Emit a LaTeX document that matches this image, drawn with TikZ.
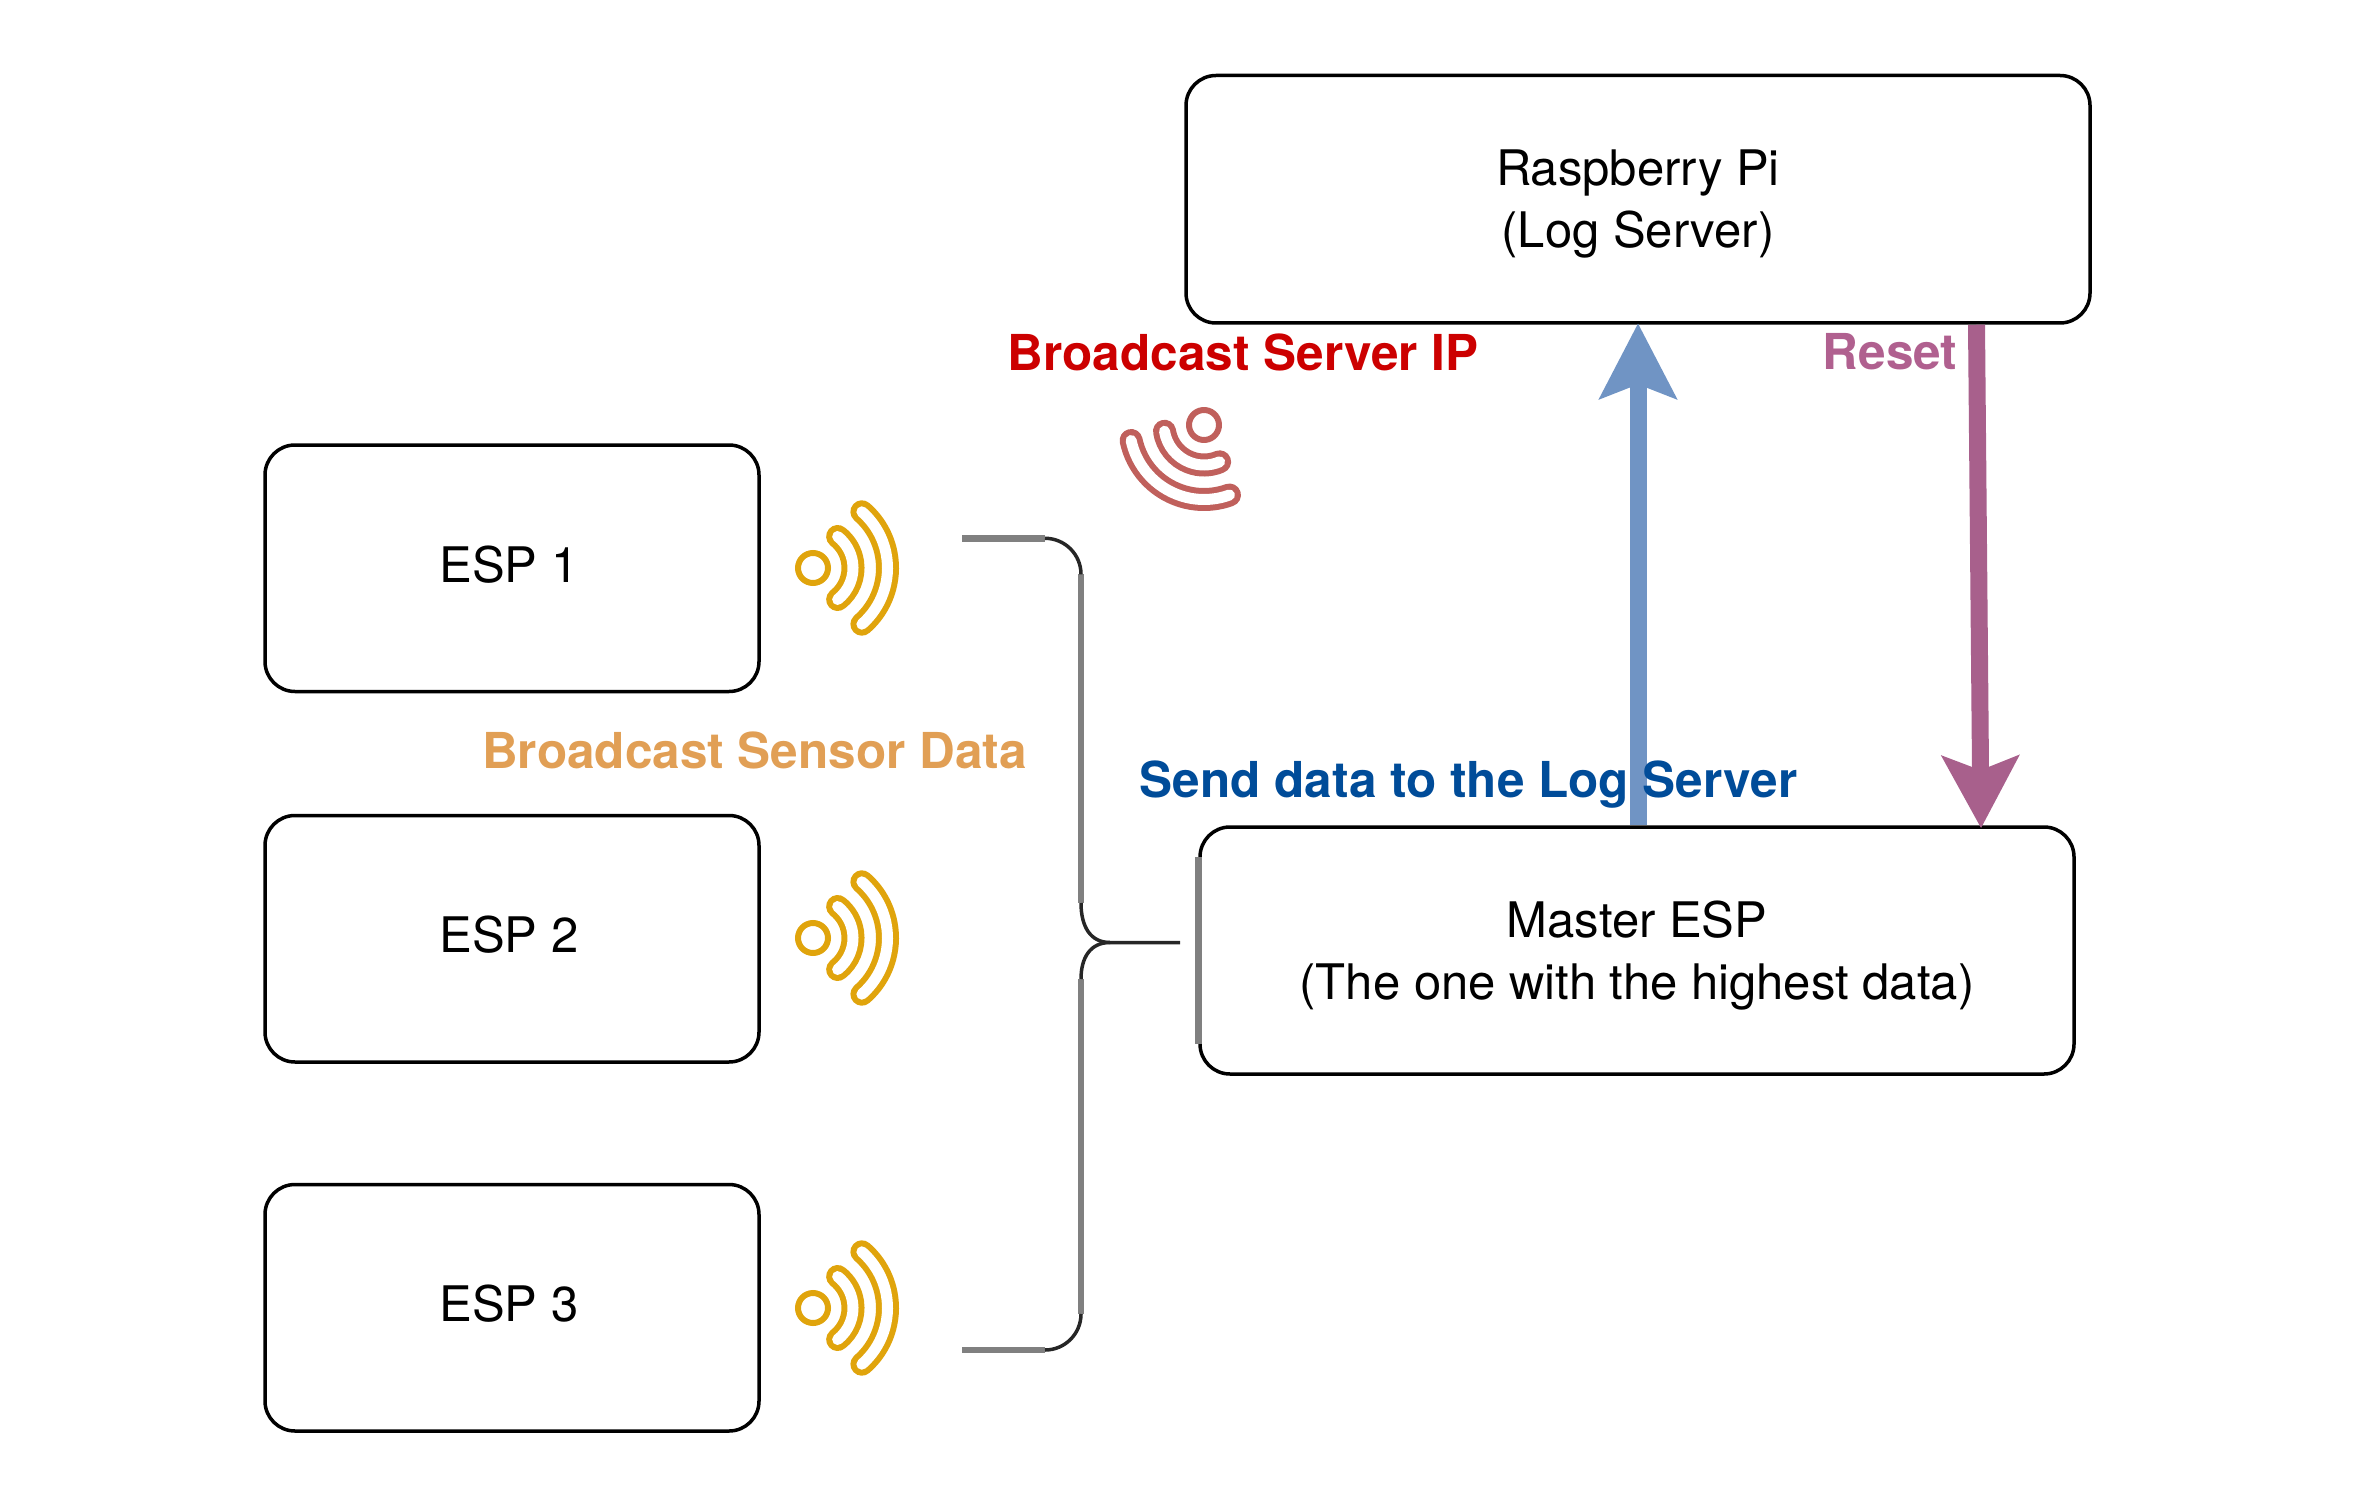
\documentclass[tikz,border=0pt]{standalone}
\usepackage{fontspec}
\setmainfont{TeX Gyre Heros}
\usetikzlibrary{arrows.meta,calc}
\definecolor{waveorange}{HTML}{E0A40C}
\definecolor{wavered}{HTML}{C0605C}
\definecolor{labelorange}{HTML}{E19F55}
\definecolor{labelred}{HTML}{CC0000}
\definecolor{labelblue}{HTML}{004C99}
\definecolor{labelpurple}{HTML}{B0608F}
\definecolor{linkblue}{HTML}{7094C4}
\definecolor{linkpurple}{HTML}{A8608C}
\newcommand{\wavesign}[4]{%
  \begin{scope}[shift={(#1,#2)},rotate=#3]
    \draw[color=#4,line width=6pt] (0,0) circle[radius=15];
    \draw[color=#4,line width=6pt,double=white,double distance=11pt,line cap=round]
      (52:40) arc[start angle=52,end angle=-52,radius=40];
    \draw[color=#4,line width=6pt,double=white,double distance=11pt,line cap=round]
      (49:74.5) arc[start angle=49,end angle=-49,radius=74.5];
  \end{scope}}
\newcommand{\toplift}{\rule{0pt}{46pt}}
\newcommand{\espname}[1]{\rule[-9pt]{0pt}{0pt}#1\hspace*{6pt}}
\tikzset{
  bx/.style={draw=black,line width=3.5pt,rounded corners=30pt,fill=white,align=center,
    inner sep=0pt,font=\fontsize{49}{62}\selectfont},
  espbox/.style={bx,minimum width=494pt,minimum height=246.5pt},
  lab/.style={font=\fontsize{49.5}{62}\selectfont\bfseries,inner sep=0pt},
  link/.style={line width=17pt},
  bracketstraight/.style={draw=black!50,line width=6.5pt},
  bracketcurve/.style={draw=black!85,line width=3.5pt,line join=round}
}
\begin{document}
\begin{tikzpicture}[x=1pt,y=-1pt]
\useasboundingbox (0,0) rectangle (2355,1503);
\node[bx,minimum width=904pt,minimum height=247.5pt] (pi) at (1638,199.25) {\toplift Raspberry Pi\\(Log Server)};
\node[bx,minimum width=874pt,minimum height=247pt] (master) at (1637,950.5) {\toplift Master ESP\\(The one with the highest data)};
\node[espbox] (esp1) at (512,568.25) {\espname{ESP 1}};
\node[espbox] (esp2) at (512,938.75) {\espname{ESP 2}};
\node[espbox] (esp3) at (512,1307.75) {\espname{ESP 3}};
\draw[bracketstraight] ($(master.north west)+(0,32)$) -- ($(master.south west)+(0,-32)$);
\wavesign{813}{568}{0}{waveorange}
\wavesign{813}{938}{0}{waveorange}
\wavesign{813}{1308}{0}{waveorange}
\wavesign{1204}{425}{-119}{wavered}
\draw[bracketstraight] (962,538.3) -- (1045,538.3);
\draw[bracketstraight] (1081,574.3) -- (1081,903);
\draw[bracketstraight] (1081,979) -- (1081,1314);
\draw[bracketstraight] (1045,1350) -- (962,1350);
\draw[bracketcurve] (1045,538.3) arc[start angle=-90,end angle=0,radius=36];
\draw[bracketcurve] (1081,903) .. controls (1081,926) and (1090,942.5) .. (1110,942.5) -- (1180,942.5);
\draw[bracketcurve] (1110,942.5) .. controls (1090,942.5) and (1081,958) .. (1081,979);
\draw[bracketcurve] (1081,1314) arc[start angle=0,end angle=90,radius=36];
\draw[link,color=linkblue,shorten >=-1.5pt,-{Stealth[length=75pt,width=76pt,inset=14pt]}]
  ($(master.north)+(1,0)$) -- ($(pi.south)+(0,0)$);
\draw[link,color=linkpurple,shorten >=-3pt,-{Stealth[length=72pt,width=76pt,inset=14pt]}]
  ($(pi.south)+(338.5,0)$) -- ($(master.north)+(344,0)$);
\node[lab,text=labelred] (t1) at (1243,352) {Broadcast Server IP};
\node[lab,text=labelpurple] (t2) at (1890,352) {Reset};
\node[lab,text=labelorange] (t3) at (754.5,750) {Broadcast Sensor Data};
\node[lab,text=labelblue] (t4) at (1468.5,784.5) {Send data to the Log Server};
\end{tikzpicture}
\end{document}
